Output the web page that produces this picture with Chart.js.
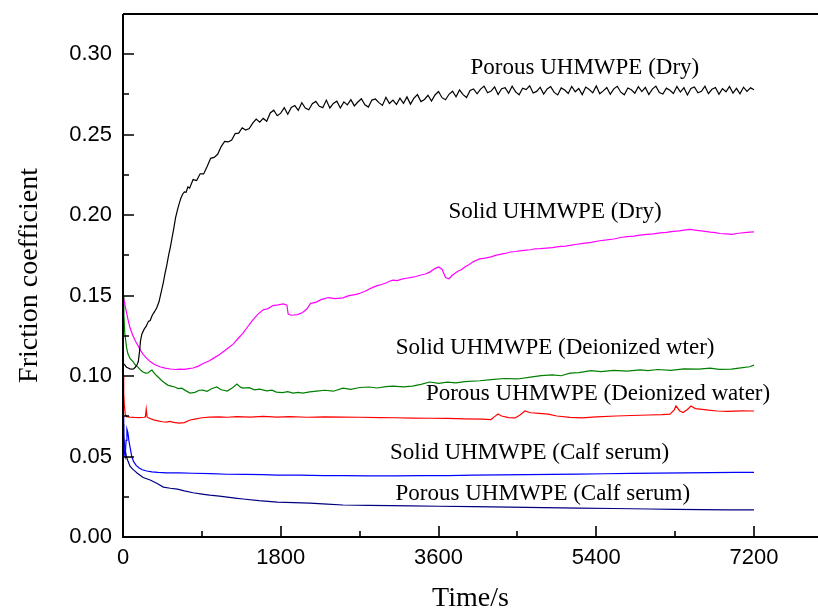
<!DOCTYPE html>
<html>
<head>
<meta charset="utf-8">
<script src="https://cdn.jsdelivr.net/npm/chart.js@4.4.1/dist/chart.umd.min.js"></script>
<style>
  html, body { margin: 0; padding: 0; background: #fff; }
  #wrap { width: 818px; height: 613px; }
</style>
</head>
<body>
<div id="wrap"><canvas id="c" width="818" height="613"></canvas></div>
<script>
// ---------- data: [time (s), friction coefficient] ----------
const porousDry = [
  [0,0.108],[20,0.107],[40,0.1055],[60,0.105],[80,0.1045],[100,0.1043],[120,0.1045],[140,0.1055],[160,0.107],[175,0.109],
  [190,0.116],[200,0.122],[215,0.126],[240,0.129],[265,0.131],[290,0.134],[310,0.1345],[335,0.138],[360,0.140],[385,0.1425],
  [410,0.146],[435,0.152],[460,0.158],[480,0.164],[500,0.169],[520,0.175],[540,0.180],[560,0.186],[580,0.192],[600,0.1985],
  [620,0.203],[640,0.207],[660,0.2105],[680,0.213],[700,0.2145],[720,0.2142],[740,0.2175],[760,0.2168],[780,0.2195],
  [800,0.2221],[840,0.2215],[880,0.2257],[920,0.2256],[960,0.2303],[1000,0.2353],[1040,0.2359],[1080,0.2378],[1120,0.2426],
  [1160,0.2458],[1200,0.2455],[1240,0.2467],[1280,0.2507],[1320,0.2510],[1360,0.2543],[1400,0.2529],[1440,0.2538],[1480,0.2572],
  [1520,0.2597],[1560,0.2578],[1600,0.2601],[1640,0.2583],[1680,0.2635],[1720,0.2652],[1760,0.2618],[1800,0.2634],[1840,0.2668],
  [1880,0.2627],[1920,0.2669],[1960,0.2681],[2000,0.2651],[2040,0.2699],[2080,0.2666],[2120,0.2655],[2160,0.2693],[2200,0.2707],
  [2240,0.2676],[2280,0.2668],[2320,0.2715],[2360,0.2666],[2400,0.2694],[2440,0.2708],[2480,0.2666],[2520,0.2704],[2560,0.2685],
  [2600,0.2718],[2640,0.2679],[2680,0.2703],[2720,0.2723],[2760,0.2686],[2800,0.2672],[2840,0.2715],[2880,0.2722],[2920,0.2699],
  [2960,0.2682],[3000,0.2732],[3040,0.2694],[3080,0.2715],[3120,0.2688],[3160,0.2727],[3200,0.2695],[3240,0.2735],[3280,0.2690],
  [3320,0.2727],[3360,0.2749],[3400,0.2706],[3440,0.2719],[3480,0.2745],[3520,0.2709],[3560,0.2747],[3600,0.2768],[3640,0.2730],
  [3680,0.2717],[3720,0.2751],[3760,0.2770],[3800,0.2735],[3840,0.2778],[3880,0.2749],[3920,0.2731],[3960,0.2775],[4000,0.2784],
  [4040,0.2754],[4080,0.2783],[4120,0.2802],[4160,0.2761],[4200,0.2771],[4240,0.2797],[4280,0.2750],[4320,0.2786],[4360,0.2792],
  [4400,0.2757],[4440,0.2801],[4480,0.2766],[4520,0.2748],[4560,0.2789],[4600,0.2780],[4640,0.2804],[4680,0.2759],[4720,0.2769],
  [4760,0.2795],[4800,0.2752],[4840,0.2784],[4880,0.2799],[4920,0.2763],[4960,0.2747],[5000,0.2791],[5040,0.2778],[5080,0.2756],
  [5120,0.2800],[5160,0.2767],[5200,0.2787],[5240,0.2749],[5280,0.2796],[5320,0.2781],[5360,0.2760],[5400,0.2803],[5440,0.2754],
  [5480,0.2772],[5520,0.2793],[5560,0.2751],[5600,0.2785],[5640,0.2801],[5680,0.2764],[5720,0.2748],[5760,0.2790],[5800,0.2779],
  [5840,0.2758],[5880,0.2798],[5920,0.2768],[5960,0.2794],[6000,0.2750],[6040,0.2783],[6080,0.2802],[6120,0.2762],[6160,0.2753],
  [6200,0.2789],[6240,0.2776],[6280,0.2756],[6320,0.2799],[6360,0.2765],[6400,0.2792],[6440,0.2747],[6480,0.2787],[6520,0.2797],
  [6560,0.2761],[6600,0.2770],[6640,0.2801],[6680,0.2755],[6720,0.2782],[6760,0.2793],[6800,0.2751],[6840,0.2786],[6880,0.2767],
  [6920,0.2800],[6960,0.2759],[7000,0.2788],[7040,0.2754],[7080,0.2795],[7120,0.2769],[7160,0.2791],[7200,0.2779]
];

const solidDry = [
  [0,0.150],[20,0.145],[40,0.1395],[60,0.1345],[80,0.130],[110,0.1255],[140,0.122],[170,0.119],[200,0.116],[230,0.1135],
  [270,0.111],[310,0.109],[360,0.1072],[420,0.1058],[480,0.1049],[540,0.1044],[600,0.1041],[650,0.1043],[700,0.1042],[750,0.1046],
  [800,0.105],[860,0.1062],[920,0.108],[980,0.1094],[1030,0.111],[1090,0.113],[1140,0.115],[1200,0.1175],[1260,0.120],[1310,0.1232],
  [1370,0.1267],[1420,0.1305],[1480,0.1348],[1540,0.1385],[1600,0.1412],[1650,0.1418],[1710,0.1438],[1770,0.1442],[1830,0.1448],
  [1870,0.1440],[1885,0.1385],[1920,0.1378],[1990,0.1382],[2050,0.1395],[2100,0.1418],[2140,0.1452],[2200,0.1458],[2260,0.1475],
  [2340,0.1488],[2420,0.1481],[2510,0.1486],[2560,0.1497],[2600,0.1502],[2660,0.1508],[2710,0.1516],[2760,0.1527],[2800,0.1538],
  [2850,0.1551],[2900,0.1562],[2950,0.1569],[3000,0.1578],[3040,0.1589],[3080,0.1596],[3130,0.1593],[3180,0.1602],[3230,0.1608],
  [3280,0.1612],[3340,0.1619],[3400,0.1628],[3450,0.1634],[3500,0.1646],[3560,0.1668],[3600,0.1678],[3640,0.1664],[3680,0.1612],
  [3720,0.1605],[3760,0.1628],[3820,0.1652],[3860,0.1661],[3900,0.1678],[3950,0.1694],[4000,0.1712],[4070,0.1728],[4130,0.1733],
  [4200,0.1741],[4250,0.1750],[4300,0.1756],[4360,0.1762],[4420,0.1771],[4480,0.1774],[4550,0.1779],[4600,0.1783],[4650,0.1785],
  [4700,0.1791],[4760,0.1792],[4830,0.1795],[4900,0.1798],[4950,0.1803],[5000,0.1806],[5050,0.1808],[5100,0.1812],[5180,0.1819],
  [5250,0.1825],[5340,0.1831],[5440,0.1841],[5520,0.1846],[5600,0.1852],[5680,0.1861],[5750,0.1866],[5830,0.1870],[5900,0.1876],
  [5980,0.1881],[6050,0.1884],[6130,0.1890],[6200,0.1893],[6280,0.1899],[6350,0.1902],[6420,0.1909],[6470,0.1912],[6510,0.1908],
  [6550,0.1905],[6620,0.1901],[6700,0.1894],[6760,0.1891],[6810,0.1886],[6880,0.1884],[6950,0.1881],[7000,0.1886],[7050,0.1889],
  [7120,0.1893],[7200,0.1896]
];

const solidWater = [
  [0,0.150],[10,0.138],[20,0.127],[40,0.118],[55,0.114],[80,0.111],[114,0.109],[140,0.107],[170,0.1056],[200,0.1038],
  [228,0.1025],[260,0.1018],[285,0.102],[310,0.1032],[330,0.1037],[360,0.1015],[400,0.0994],[450,0.0968],[510,0.0944],[550,0.0938],
  [590,0.0932],[630,0.0922],[670,0.0925],[720,0.0908],[765,0.0894],[820,0.0899],[870,0.0912],[910,0.0913],[960,0.0905],[1010,0.0921],
  [1070,0.0932],[1120,0.0915],[1190,0.0907],[1250,0.0928],[1300,0.095],[1340,0.0931],[1370,0.0925],[1440,0.0928],[1500,0.0914],
  [1560,0.0919],[1640,0.0908],[1700,0.0912],[1750,0.090],[1820,0.0897],[1880,0.0903],[1940,0.0894],[2000,0.0899],[2050,0.0894],
  [2130,0.0902],[2210,0.0907],[2300,0.0912],[2400,0.0906],[2510,0.0925],[2600,0.0918],[2700,0.0929],[2810,0.0932],[2900,0.0926],
  [3000,0.0935],[3080,0.0938],[3200,0.0933],[3300,0.0938],[3400,0.0948],[3500,0.0963],[3600,0.0955],[3700,0.0962],[3800,0.0958],
  [3900,0.0966],[4070,0.0971],[4200,0.0978],[4350,0.0985],[4500,0.0982],[4650,0.0994],[4770,0.1003],[4900,0.1008],[5000,0.1002],
  [5100,0.1018],[5200,0.1022],[5340,0.1034],[5450,0.1028],[5600,0.1036],[5750,0.1031],[5900,0.1038],[5990,0.1034],[6100,0.1041],
  [6250,0.1036],[6400,0.1045],[6570,0.1043],[6700,0.1049],[6800,0.1042],[6940,0.1043],[7050,0.1051],[7150,0.1058],[7200,0.1068]
];

const porousWater = [
  [0,0.100],[8,0.090],[15,0.082],[25,0.0765],[40,0.0748],[80,0.0745],[130,0.0743],[180,0.0742],[240,0.0744],[255,0.0746],
  [265,0.0795],[275,0.0746],[300,0.0738],[350,0.0728],[400,0.0722],[450,0.0716],[500,0.0714],[530,0.0718],[580,0.0712],[640,0.0708],
  [700,0.0711],[765,0.0727],[820,0.0733],[900,0.0741],[990,0.0745],[1100,0.0746],[1190,0.0744],[1300,0.0748],[1450,0.0745],
  [1600,0.0749],[1760,0.0745],[1900,0.0748],[2100,0.0744],[2300,0.0747],[2510,0.0745],[2700,0.0744],[2930,0.0742],[3100,0.0741],
  [3300,0.0739],[3500,0.0738],[3700,0.0737],[3900,0.0734],[4100,0.0732],[4199,0.0730],[4240,0.0748],[4279,0.0764],[4320,0.0752],
  [4400,0.0742],[4473,0.0740],[4530,0.0758],[4587,0.0783],[4650,0.0772],[4750,0.0768],[4850,0.0764],[4950,0.0752],[5100,0.0743],
  [5237,0.0740],[5400,0.0746],[5625,0.0752],[5800,0.0755],[6002,0.0758],[6150,0.0761],[6241,0.0764],[6290,0.0790],[6310,0.0814],
  [6350,0.0785],[6390,0.0773],[6440,0.0792],[6481,0.0814],[6530,0.0798],[6584,0.0795],[6680,0.0788],[6778,0.0783],[6900,0.0781],
  [7050,0.0784],[7200,0.0783]
];

const solidSerum = [
  [0,0.076],[8,0.062],[15,0.052],[25,0.050],[35,0.060],[45,0.067],[55,0.065],[70,0.059],[85,0.0545],[100,0.050],
  [120,0.047],[150,0.0445],[180,0.043],[220,0.0418],[270,0.041],[330,0.0405],[400,0.0402],[500,0.0399],[640,0.0398],[800,0.0396],
  [1000,0.0394],[1190,0.039],[1400,0.0389],[1600,0.0387],[1760,0.0385],[2000,0.0384],[2300,0.0382],[2510,0.0381],[2800,0.0380],
  [3100,0.0380],[3400,0.0381],[3700,0.0382],[4000,0.0384],[4300,0.0386],[4600,0.0388],[4900,0.0389],[5200,0.0391],[5500,0.0393],
  [5800,0.0395],[6100,0.0397],[6400,0.0399],[6700,0.0400],[7000,0.0402],[7200,0.0402]
];

const porousSerum = [
  [0,0.070],[8,0.064],[15,0.058],[25,0.054],[40,0.0497],[60,0.0467],[80,0.0440],[110,0.0422],[140,0.0408],[160,0.0398],
  [230,0.0370],[310,0.0354],[390,0.0332],[460,0.031],[540,0.0303],[620,0.0298],[700,0.0287],[800,0.0275],[900,0.0267],[990,0.026],
  [1100,0.0254],[1190,0.0248],[1280,0.0242],[1370,0.0236],[1550,0.0226],[1760,0.0217],[1950,0.0213],[2130,0.021],[2330,0.0204],
  [2510,0.0199],[2800,0.0197],[3050,0.0195],[3280,0.0193],[3600,0.0191],[4000,0.0189],[4400,0.0186],[4800,0.0183],[5200,0.0180],
  [5600,0.0177],[6000,0.0174],[6300,0.0172],[6600,0.0170],[6900,0.0168],[7200,0.0168]
];

const xTickValues = [0, 1800, 3600, 5400, 7200];
const xMinorValues = [900, 2700, 4500, 6300];
const yTickValues = [0, 0.05, 0.10, 0.15, 0.20, 0.25, 0.30];
const yMinorValues = [0.025, 0.075, 0.125, 0.175, 0.225, 0.275];

const seriesNames = [
  'Porous UHMWPE (Dry)', 'Solid UHMWPE (Dry)', 'Solid UHMWPE (Deionized wter)',
  'Porous UHMWPE (Deionized water)', 'Solid UHMWPE (Calf serum)', 'Porous UHMWPE (Calf serum)'
];
// label anchor in data units (time, coefficient)
const labelTimes = [5270, 4930, 4930, 5420, 4640, 4790];
const labelValues = [0.2913, 0.2019, 0.1174, 0.0888, 0.0522, 0.0267];

// ---------- chart ----------
const seriesData = [porousDry, solidDry, solidWater, porousWater, solidSerum, porousSerum];
const seriesColors = ['#000000', '#ff00ff', '#008000', '#ff0000', '#0000ff', '#000080'];

const decor = {
  id: 'decor',
  afterDatasetsDraw(chart) {
    const { ctx, chartArea: a, scales: { x, y } } = chart;
    ctx.save();
    ctx.strokeStyle = '#000';
    ctx.lineWidth = 2;
    ctx.beginPath();
    ctx.moveTo(a.left, a.top); ctx.lineTo(a.right, a.top);
    ctx.moveTo(a.left, a.top); ctx.lineTo(a.left, a.bottom); ctx.lineTo(a.right, a.bottom);
    ctx.stroke();
    ctx.lineWidth = 1.6;
    ctx.beginPath();
    yTickValues.forEach(v => { const p = Math.round(y.getPixelForValue(v)); ctx.moveTo(a.left, p); ctx.lineTo(a.left + 11, p); });
    yMinorValues.forEach(v => { const p = Math.round(y.getPixelForValue(v)); ctx.moveTo(a.left, p); ctx.lineTo(a.left + 6, p); });
    xTickValues.forEach(v => { const p = Math.round(x.getPixelForValue(v)); ctx.moveTo(p, a.bottom); ctx.lineTo(p, a.bottom - 11); });
    xMinorValues.forEach(v => { const p = Math.round(x.getPixelForValue(v)); ctx.moveTo(p, a.bottom); ctx.lineTo(p, a.bottom - 6); });
    ctx.stroke();
    ctx.fillStyle = '#000';
    ctx.font = '23px "Liberation Serif", "Times New Roman", serif';
    ctx.textAlign = 'center';
    ctx.textBaseline = 'middle';
    seriesNames.forEach((s, i) => {
      ctx.fillText(s, x.getPixelForValue(labelTimes[i]), y.getPixelForValue(labelValues[i]));
    });
    ctx.restore();
  }
};

new Chart(document.getElementById('c'), {
  type: 'line',
  data: {
    datasets: seriesData.map((d, i) => ({
      label: seriesNames[i],
      data: d.map(p => ({ x: p[0], y: p[1] })),
      borderColor: seriesColors[i],
      borderWidth: 1.2,
      pointRadius: 0,
      fill: false,
      tension: 0
    }))
  },
  options: {
    responsive: false,
    animation: false,
    devicePixelRatio: 1,
    layout: { padding: { top: 14, left: 0, right: 0, bottom: 0 } },
    plugins: { legend: { display: false }, tooltip: { enabled: false } },
    scales: {
      x: {
        type: 'linear',
        min: 0, max: 7930,
        grid: { display: false, drawTicks: false },
        border: { display: false },
        afterBuildTicks: s => { s.ticks = xTickValues.map(v => ({ value: v })); },
        afterFit: s => { s.height = 76; s.paddingLeft = 0; s.paddingRight = 0; },
        ticks: {
          color: '#000', padding: 8,
          font: { family: '"Liberation Sans", Arial, sans-serif', size: 22 },
          callback: v => String(v)
        },
        title: {
          display: true, text: 'Time/s', color: '#000',
          font: { family: '"Liberation Serif", "Times New Roman", serif', size: 28, lineHeight: 1 },
          padding: { top: 0, bottom: 0 }
        }
      },
      y: {
        type: 'linear',
        min: 0, max: 0.325,
        grid: { display: false, drawTicks: false },
        border: { display: false },
        afterBuildTicks: s => { s.ticks = yTickValues.map(v => ({ value: v })); },
        afterFit: s => { s.width = 123; s.paddingTop = 0; s.paddingBottom = 0; },
        ticks: {
          color: '#000', padding: 11,
          font: { family: '"Liberation Sans", Arial, sans-serif', size: 22 },
          callback: v => Number(v).toFixed(2)
        },
        title: {
          display: true, text: 'Friction coefficient', color: '#000',
          font: { family: '"Liberation Serif", "Times New Roman", serif', size: 28, lineHeight: 1 },
          padding: { top: 16, bottom: 0 }
        }
      }
    }
  },
  plugins: [decor]
});
</script>
</body>
</html>
